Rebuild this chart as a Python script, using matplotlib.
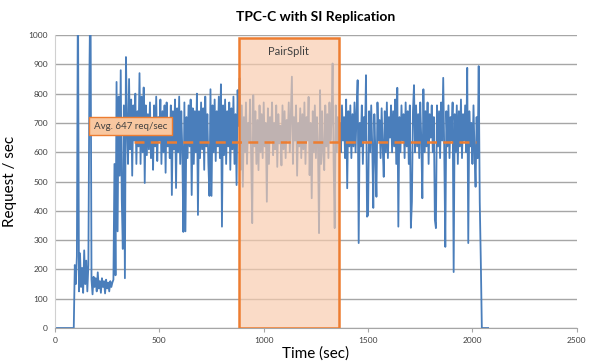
import numpy as np
import matplotlib
matplotlib.use("Agg")
import matplotlib.pyplot as plt
from matplotlib.patches import Rectangle

plt.rcParams['font.family'] = ['Lato', 'DejaVu Sans']

idle = [0, 0, 0, 0, 0, 0, 0, 0, 0, 0, 0, 0, 0, 0, 0, 0, 0, 0, 0]
warmup = [215, 150, 245, 1200, 125, 255, 140, 205, 120, 265,
          150, 230, 125, 215, 865, 1200, 165, 115, 175, 140,
          170, 125, 190, 135, 160, 120, 170, 140, 160, 118,
          165, 135, 155, 125, 160, 140, 155, 165]
transition = [560, 180, 840, 330, 790, 520, 880, 440, 270, 760, 170, 925]
steady1 = [700, 560, 850, 610, 780, 520, 760, 640, 800, 560,
           740, 620, 870, 560, 790, 600, 821, 495, 760, 590,
           730, 610, 770, 580, 700, 540, 760, 620, 790, 570,
           720, 640, 780, 560, 740, 600, 760, 530, 770, 620,
           700, 580, 760, 454, 740, 610, 780, 478, 750, 600,
           790, 560, 740, 610, 328, 770, 330, 720, 580, 760,
           620, 780, 454, 750, 560, 740, 600, 800, 386, 740,
           580, 770, 610, 750, 540, 790, 620, 730, 560, 451,
           815, 451, 760, 600, 780, 570, 740, 620, 790, 580,
           832, 346, 760, 590, 780, 560, 740, 620, 770, 540,
           750, 610, 790, 560, 730, 488, 812]
pairsplit = [690, 853, 540, 760, 482, 720, 600, 770, 560, 700,
             640, 780, 580, 358, 795, 620, 740, 560, 710, 539,
             760, 600, 730, 580, 770, 620, 700, 431, 750, 560,
             720, 640, 770, 590, 700, 610, 760, 550, 730, 630,
             690, 555, 760, 610, 740, 580, 710, 640, 770, 600,
             730, 858, 560, 720, 640, 760, 520, 700, 620, 750,
             580, 730, 610, 770, 560, 720, 640, 789, 522, 700,
             443, 740, 600, 760, 580, 720, 620, 324, 812, 560,
             740, 600, 539, 760, 620, 730, 580, 770, 640, 710,
             903, 560, 341, 760, 600, 720, 640]
steady2 = [700, 600, 760, 640, 720, 580, 780, 477, 740, 620,
           760, 580, 730, 620, 770, 600, 740, 846, 290, 700,
           620, 760, 560, 720, 640, 863, 380, 385, 740, 600,
           760, 620, 410, 730, 600, 448, 770, 640, 710, 580,
           750, 620, 516, 740, 600, 770, 580, 720, 650, 760,
           600, 740, 620, 780, 560, 820, 346, 720, 600, 760,
           640, 730, 580, 770, 620, 740, 560, 760, 342, 431,
           740, 829, 600, 760, 620, 730, 580, 770, 640, 443,
           815, 600, 740, 620, 770, 560, 730, 650, 760, 600,
           720, 369, 341, 760, 620, 740, 580, 770, 640, 854,
           600, 277, 740, 620, 760, 580, 720, 640, 770, 191,
           730, 600, 760, 560, 740, 620, 780, 580, 730, 640,
           760, 600, 888, 290, 740, 620, 700, 560, 760, 600,
           482, 720, 580]
shutdown = [894, 430, 232, 0, 0, 0, 0, 0, 0, 0]

sample_step = 5
avg_level = 634
avg_start, avg_end = 380, 2015
avg_label = "Avg. 647 req/sec"
split_start, split_end = 880, 1360

rate = np.array(idle + warmup + transition + steady1 + pairsplit + steady2 + shutdown)
t = np.arange(len(rate)) * sample_step

fig = plt.figure(figsize=(5.93, 3.63), dpi=100)
ax = fig.add_axes([0.0927, 0.0964, 0.880, 0.807])

ax.plot(t, rate, color='#4A7EBB', linewidth=1.3, zorder=2)

# PairSplit window drawn over the series
ax.add_patch(Rectangle((split_start, 0), split_end - split_start, 990,
                       facecolor='#F8CBAD', alpha=0.68, edgecolor='none', zorder=3))
ax.add_patch(Rectangle((split_start, 0), split_end - split_start, 990,
                       facecolor='none', edgecolor='#ED7D31', linewidth=1.8, zorder=4))
ax.text((split_start + split_end) / 2, 945, "PairSplit", ha='center', va='center',
        fontsize=8, color='#404040', zorder=5)

ax.plot([avg_start, avg_end], [avg_level, avg_level], color='#ED7D31',
        linestyle=(0, (4, 2.5)), linewidth=1.8, zorder=5)
ax.text(362, 689, avg_label, ha='center', va='center', fontsize=7, color='#404040',
        zorder=6, bbox=dict(boxstyle='square,pad=0.45', facecolor='#F8C7A0',
                            edgecolor='#ED7D31', linewidth=1.0))

ax.set_xlim(0, 2500)
ax.set_ylim(0, 1000)
ax.set_xticks(np.arange(0, 2501, 500))
ax.set_yticks(np.arange(0, 1001, 100))
ax.grid(axis='y', color='#A6A6A6', linewidth=1.0, zorder=0)
ax.set_axisbelow(True)
for s in ['top', 'right']:
    ax.spines[s].set_visible(False)
ax.spines['left'].set_color('#D0D0D0')
ax.spines['bottom'].set_color('#A6A6A6')
ax.tick_params(axis='y', length=0, labelsize=6, colors='#404040', pad=5)
ax.tick_params(axis='x', length=3, labelsize=6, colors='#A6A6A6', labelcolor='#404040')

ax.set_title("TPC-C with SI Replication", fontsize=10, fontweight='bold', pad=10)
ax.set_xlabel("Time (sec)", fontsize=11, labelpad=2)
ax.set_ylabel("Request / sec", fontsize=11, labelpad=8)

fig.savefig("out.png", dpi=100)
